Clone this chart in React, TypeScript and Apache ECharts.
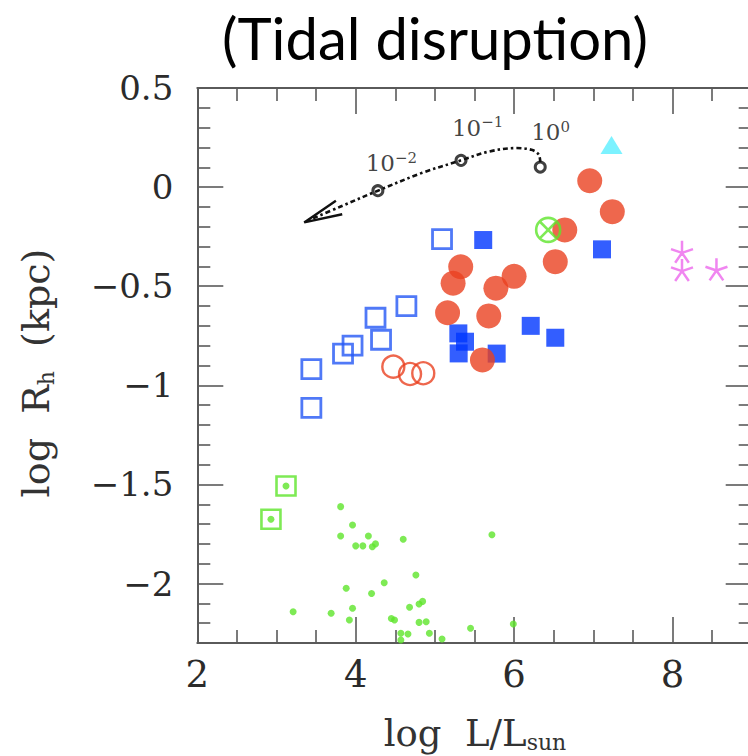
import React, { useEffect, useRef } from 'react';
import * as echarts from 'echarts';

// ---------- axes ----------
const X_MIN = 2;
const X_MAX = 9;
const Y_MIN = -2.3;
const Y_MAX = 0.5;
const X_MAJOR = [2, 4, 6, 8];
const X_MINOR = [2.5, 3, 3.5, 4.5, 5, 5.5, 6.5, 7, 7.5, 8.5];
const Y_MAJOR = [-2, -1.5, -1, -0.5, 0, 0.5];
const Y_MINOR = [-2.2, -2.1, -1.9, -1.8, -1.7, -1.6, -1.4, -1.3, -1.2, -1.1, -0.9, -0.8, -0.7, -0.6, -0.4, -0.3, -0.2, -0.1, 0.1, 0.2, 0.3, 0.4];

// ---------- data (log L/Lsun, log Rh) ----------
const greenDots = [
  [3.81, -1.612], [3.96, -1.705], [3.81, -1.76], [4.16, -1.76], [4.0, -1.81], [4.09, -1.81],
  [4.21, -1.814], [4.25, -1.80], [4.6, -1.777], [5.72, -1.754], [4.76, -1.957], [4.36, -1.996],
  [3.88, -2.024], [4.2, -2.05], [3.96, -2.125], [3.21, -2.142], [3.69, -2.15], [3.92, -2.184],
  [4.68, -2.12], [4.8, -2.103], [4.845, -2.09], [4.45, -2.176], [4.49, -2.184], [4.8, -2.196],
  [4.89, -2.193], [4.57, -2.251], [4.66, -2.255], [4.57, -2.285], [4.93, -2.251], [5.09, -2.28],
  [5.45, -2.226], [5.99, -2.204],
];
const greenBoxed = [[3.12, -1.508], [2.93, -1.676]];
const openBlueSquares = [
  [5.09, -0.262], [4.64, -0.6], [4.25, -0.659], [4.32, -0.77], [3.96, -0.8], [3.84, -0.84],
  [3.44, -0.918], [3.44, -1.114],
];
const redOpenCircles = [[4.475, -0.906], [4.686, -0.943], [4.853, -0.939]];
const filledBlueSquares = [
  [5.61, -0.267], [5.296, -0.738], [5.38, -0.78], [5.3, -0.839], [5.78, -0.84], [6.21, -0.7],
  [6.52, -0.76], [7.11, -0.314],
];
const redFilledCircles = [
  [5.326, -0.402], [5.23, -0.485], [5.16, -0.634], [5.77, -0.51], [6.0, -0.45], [5.68, -0.65],
  [5.6, -0.872], [6.955, 0.032], [7.24, -0.124], [6.64, -0.216], [6.52, -0.376],
];
const greenCrossed = [[6.43, -0.216]];
const cyanTriangle = [[7.23, 0.212]];
const magentaStars = [[8.12, -0.326], [8.12, -0.418], [8.555, -0.415]];

// tidal-disruption track
const track = [
  [6.33, 0.125], [6.31, 0.165], [6.22, 0.188], [6.03, 0.197], [5.69, 0.18], [5.33, 0.135],
  [4.84, 0.072], [4.28, -0.018], [3.81, -0.098], [3.36, -0.175],
];
const arrowHead = [[3.75, -0.069], [3.35, -0.178], [3.83, -0.137]];
const trackMarks = [[4.28, -0.018], [5.33, 0.135], [6.33, 0.101]];
const trackExponents = ['−2', '−1', '0'];
const trackLabelPos = [[4.45, 0.121], [5.54, 0.3], [6.46, 0.277]];

// ---------- style ----------
const RED = '#EA4120';
const BLUE = '#0036FF';
const BLUE_OPEN = '#2457F5';
const GREEN = '#5EE52B';
const CYAN = '#5BEFFF';
const MAGENTA = '#EC68EC';
const AXIS_COLOR = '#5a5a5a';
const SERIF = '"DejaVu Serif", serif';

const CROSS_CIRCLE = 'path://M -10 0 A 10 10 0 1 0 10 0 A 10 10 0 1 0 -10 0 Z M -7 -7 L 7 7 M -7 7 L 7 -7';
const STAR = 'path://M 0 0 L 0 -10 M 0 0 L 9.5 -3.1 M 0 0 L 5.9 8.1 M 0 0 L -5.9 8.1 M 0 0 L -9.5 -3.1';

function makeAxis(kind: 'x' | 'y', position: string, values: number[], len: number, labels: boolean, showLine: boolean) {
  const isX = kind === 'x';
  return {
    type: 'value',
    min: isX ? X_MIN : Y_MIN,
    max: isX ? X_MAX : Y_MAX,
    position,
    gridIndex: 0,
    axisLine: { show: showLine, onZero: false, lineStyle: { color: AXIS_COLOR, width: 2 } },
    axisTick: {
      show: true,
      inside: true,
      length: len,
      customValues: values,
      lineStyle: { color: AXIS_COLOR, width: 1.6 },
    },
    axisLabel: labels
      ? {
          show: true,
          customValues: values,
          margin: isX ? 13 : 24,
          fontFamily: SERIF,
          fontSize: isX ? 37 : 34,
          color: '#2b2b2b',
          formatter: (v: number) => String(v).replace('-', '−'),
        }
      : { show: false },
    splitLine: { show: false },
    minorTick: { show: false },
    minorSplitLine: { show: false },
  };
}

export default function App() {
  const ref = useRef<HTMLDivElement>(null);
  useEffect(() => {
    if (!ref.current) return;
    const chart = echarts.init(ref.current, undefined, { renderer: 'svg' });
    const open = (color: string, w: number) => ({ color: 'transparent', borderColor: color, borderWidth: w });
    const base = { type: 'scatter', xAxisIndex: 0, yAxisIndex: 0, silent: true, clip: true };
    chart.setOption({
      animation: false,
      backgroundColor: '#ffffff',
      grid: { left: 197.3, top: 88, width: 554.4, height: 555, containLabel: false, outerBoundsMode: 'none' },
      xAxis: [
        makeAxis('x', 'bottom', X_MAJOR, 26, true, true),
        makeAxis('x', 'bottom', X_MINOR, 13, false, false),
        makeAxis('x', 'top', X_MAJOR, 26, false, true),
        makeAxis('x', 'top', X_MINOR, 13, false, false),
      ],
      yAxis: [
        makeAxis('y', 'left', Y_MAJOR, 26, true, true),
        makeAxis('y', 'left', Y_MINOR, 13, false, false),
        makeAxis('y', 'right', Y_MAJOR, 26, false, true),
        makeAxis('y', 'right', Y_MINOR, 13, false, false),
      ],
      series: [
        { ...base, name: 'green dots', data: greenDots, symbol: 'circle', symbolSize: 7, itemStyle: { color: GREEN } },
        { ...base, name: 'green boxed', data: greenBoxed, symbol: 'rect', symbolSize: 19, itemStyle: open(GREEN, 2.6) },
        { ...base, name: 'green boxed dot', data: greenBoxed, symbol: 'circle', symbolSize: 7, itemStyle: { color: GREEN } },
        { ...base, name: 'open blue', data: openBlueSquares, symbol: 'rect', symbolSize: 19, itemStyle: open(BLUE_OPEN, 2.8) },
        { ...base, name: 'open red', data: redOpenCircles, symbol: 'circle', symbolSize: 22, itemStyle: open(RED, 2.4) },
        { ...base, name: 'filled blue', data: filledBlueSquares, symbol: 'rect', symbolSize: 18, itemStyle: { color: BLUE } },
        { ...base, name: 'filled red', data: redFilledCircles, symbol: 'circle', symbolSize: 25, itemStyle: { color: RED } },
        { ...base, name: 'green crossed', data: greenCrossed, symbol: CROSS_CIRCLE, symbolSize: 24, itemStyle: open(GREEN, 2.6) },
        { ...base, name: 'cyan', data: cyanTriangle, symbol: 'triangle', symbolSize: [22, 18], itemStyle: { color: CYAN } },
        { ...base, name: 'stars', data: magentaStars, symbol: STAR, symbolSize: 22, itemStyle: open(MAGENTA, 2.5) },
        {
          type: 'line', name: 'track', data: track, smooth: 0.35, symbol: 'none', silent: true,
          lineStyle: { color: '#111', width: 2.6, type: [5, 3, 2.5, 3] },
        },
        {
          type: 'line', name: 'arrow', data: arrowHead, symbol: 'none', silent: true,
          lineStyle: { color: '#111', width: 2.4 },
        },
        { ...base, name: 'track marks', data: trackMarks, symbol: 'circle', symbolSize: 10, itemStyle: open('#111', 3) },
        {
          ...base,
          name: 'track labels',
          data: trackLabelPos.map((p, i) => ({ value: p, exp: trackExponents[i] })),
          symbolSize: 0,
          label: {
            show: true,
            position: 'inside',
            formatter: (p: any) => `{b|10}{s|${trackExponents[p.dataIndex]}}`,
            rich: {
              b: { fontFamily: SERIF, fontSize: 23, color: '#111', lineHeight: 26, verticalAlign: 'middle' },
              s: { fontFamily: SERIF, fontSize: 15, color: '#111', lineHeight: 12, verticalAlign: 'top' },
            },
          },
        },
      ],
      graphic: [
        {
          type: 'text', x: 435, y: 37,
          style: { text: '(Tidal disruption)', fontFamily: 'Lato', fontSize: 58, fill: '#000', align: 'center', verticalAlign: 'middle', textAlign: 'center', textVerticalAlign: 'middle' },
        },
        {
          type: 'text', x: 36, y: 373, rotation: Math.PI / 2,
          style: {
            text: '{a|log  R}{h|h}{a|  (kpc)}',
            align: 'center', verticalAlign: 'middle', textAlign: 'center', textVerticalAlign: 'middle',
            rich: {
              a: { fontFamily: SERIF, fontSize: 38, fill: '#333', lineHeight: 42, verticalAlign: 'middle' },
              h: { fontFamily: SERIF, fontSize: 22, fill: '#333', lineHeight: 18, verticalAlign: 'bottom' },
            },
          },
        },
        {
          type: 'text', x: 475, y: 733,
          style: {
            text: '{a|log  L/L}{s|sun}',
            align: 'center', verticalAlign: 'middle', textAlign: 'center', textVerticalAlign: 'middle',
            rich: {
              a: { fontFamily: SERIF, fontSize: 37, fill: '#333', lineHeight: 40, verticalAlign: 'middle' },
              s: { fontFamily: SERIF, fontSize: 22, fill: '#333', lineHeight: 18, verticalAlign: 'bottom' },
            },
          },
        },
      ],
    });
    return () => chart.dispose();
  }, []);
  return (
    <div
      ref={ref}
      style={{ position: 'absolute', left: 0, top: 0, width: 748, height: 756, background: '#fff' }}
    />
  );
}
